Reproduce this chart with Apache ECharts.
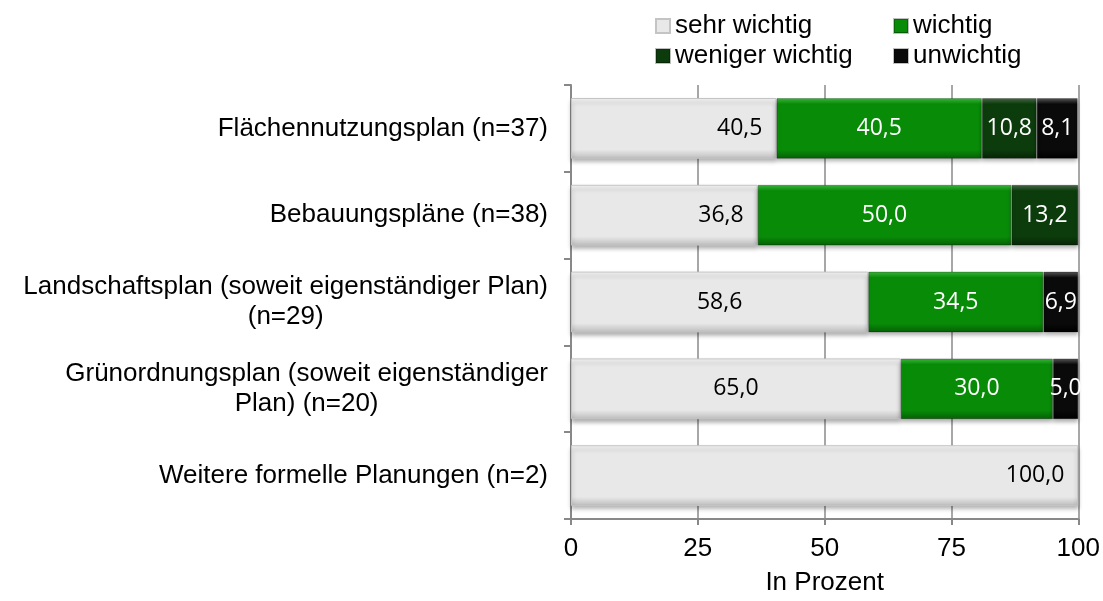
<!DOCTYPE html>
<html>
<head>
<meta charset="utf-8">
<script src="https://cdn.jsdelivr.net/npm/echarts@6/dist/echarts.min.js"></script>
<style>
  html, body { margin: 0; padding: 0; background: #fff; }
  #chart { width: 1103px; height: 601px; }
</style>
</head>
<body>
<div id="chart"></div>
<script>
// Kategorien (von oben nach unten)
const categories = [
  'Flächennutzungsplan (n=37)',
  'Bebauungspläne (n=38)',
  'Landschaftsplan (soweit eigenständiger Plan)\n(n=29)',
  'Grünordnungsplan (soweit eigenständiger\nPlan) (n=20)',
  'Weitere formelle Planungen (n=2)'
];
const seriesNames = ['sehr wichtig', 'wichtig', 'weniger wichtig', 'unwichtig'];
const sehrWichtig = [40.5, 36.8, 58.6, 65.0, 100.0];
const wichtig = [40.5, 50.0, 34.5, 30.0, 0];
const wenigerWichtig = [10.8, 13.2, 0, 0, 0];
const unwichtig = [8.1, 0, 6.9, 5.0, 0];
const xTicks = [0, 25, 50, 75, 100];

const chart = echarts.init(document.getElementById('chart'));

// Farbverlauf für den "Bevel"-Effekt
function bevel(edge, mid, low) {
  return new echarts.graphic.LinearGradient(0, 0, 0, 1, [
    { offset: 0, color: edge },
    { offset: 0.1, color: mid },
    { offset: 0.85, color: mid },
    { offset: 1, color: low }
  ]);
}
const colors = [
  bevel('#f8f8f8', '#e8e8e8', '#bdbdbd'),
  bevel('#3cb83c', '#088c08', '#056005'),
  bevel('#4a6a4a', '#0c3c0c', '#052505'),
  bevel('#5a5a5a', '#0a0a0a', '#000000')
];
const labelColors = ['#000', '#fff', '#fff', '#fff'];
const values = [sehrWichtig, wichtig, wenigerWichtig, unwichtig];

const fmt = v => v.toFixed(1).replace('.', ',');

const series = values.map((arr, si) => ({
  name: seriesNames[si],
  type: 'bar',
  stack: 'total',
  barCategoryGap: '30%',
  itemStyle: {
    color: colors[si],
    borderColor: si === 0 ? '#c4c4c4' : 'rgba(0,0,0,0.25)',
    borderWidth: 1,
    shadowColor: 'rgba(0,0,0,0.3)',
    shadowBlur: 4,
    shadowOffsetY: 3
  },
  label: {
    show: true,
    position: 'inside',
    color: labelColors[si],
    fontFamily: 'Open Sans',
    fontSize: 23,
    formatter: p => fmt(p.value)
  },
  data: arr.map((v, i) => {
    if (!v) return '-';
    // beim ersten Segment teils rechtsbündige Beschriftung
    if (si === 0 && [0, 1, 4].indexOf(i) >= 0) {
      return { value: v, label: { position: 'insideRight', distance: 14 } };
    }
    return v;
  })
}));

const legendPos = [
  { left: 655, top: 13 },
  { left: 893, top: 13 },
  { left: 655, top: 43 },
  { left: 893, top: 43 }
];

const option = {
  animation: false,
  backgroundColor: '#fff',
  color: colors,
  legend: seriesNames.map((n, i) => ({
    data: [n],
    left: legendPos[i].left,
    top: legendPos[i].top,
    padding: 0,
    itemWidth: 14,
    itemHeight: 14,
    itemGap: 0,
    icon: 'rect',
    selectedMode: false,
    textStyle: { fontFamily: 'Liberation Sans', fontSize: 26, color: '#000', padding: [0, 0, 0, 0] }
  })),
  grid: {
    left: 571,
    right: 24,
    top: 85,
    bottom: 76,
    containLabel: false
  },
  xAxis: {
    type: 'value',
    min: 0,
    max: 100,
    interval: 25,
    name: 'In Prozent',
    nameLocation: 'middle',
    nameGap: 51,
    nameTextStyle: { fontFamily: 'Liberation Sans', fontSize: 26, color: '#000' },
    axisLine: { show: true, lineStyle: { color: '#888', width: 2 } },
    axisTick: { show: true, length: 6, lineStyle: { color: '#888', width: 2 } },
    axisLabel: {
      fontFamily: 'Liberation Sans',
      fontSize: 26,
      color: '#000',
      margin: 17,
      formatter: v => xTicks.indexOf(v) >= 0 ? String(v) : ''
    },
    splitLine: { show: true, lineStyle: { color: '#8a8a8a', width: 1.5 } }
  },
  yAxis: {
    type: 'category',
    inverse: true,
    data: categories,
    axisLine: { show: true, lineStyle: { color: '#888', width: 2 } },
    axisTick: { show: true, length: 7, lineStyle: { color: '#888', width: 2 } },
    axisLabel: {
      margin: 23,
      align: 'right',
      formatter: v => v.split('\n').map(s => '{a|' + s + '}').join('\n'),
      rich: {
        a: {
          fontFamily: 'Liberation Sans',
          fontSize: 26,
          color: '#000',
          align: 'center',
          lineHeight: 30
        }
      }
    }
  },
  series: series
};

chart.setOption(option);
</script>
</body>
</html>
